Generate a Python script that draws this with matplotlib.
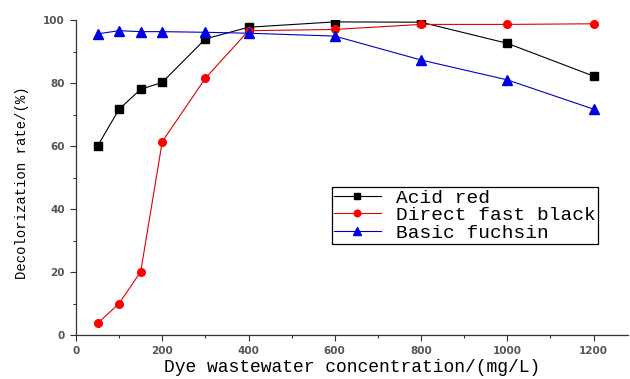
import matplotlib
matplotlib.use("Agg")
import matplotlib.pyplot as plt
from matplotlib.ticker import MultipleLocator

# data
conc = [50, 100, 150, 200, 300, 400, 600, 800, 1000, 1200]
acid_red = [60.0, 71.7, 78.0, 80.2, 94.0, 97.7, 99.4, 99.3, 92.6, 82.2]
direct_fast_black = [3.7, 10.0, 20.1, 61.4, 81.5, 96.6, 97.0, 98.6, 98.6, 98.8]
basic_fuchsin = [95.6, 96.6, 96.3, 96.3, 96.1, 95.8, 94.9, 87.3, 81.0, 71.7]
series_labels = ["Acid red", "Direct fast black", "Basic fuchsin"]

MONO = "Liberation Mono"

fig = plt.figure(figsize=(6.3, 3.79), dpi=100)
ax = fig.add_axes([76 / 630, 44 / 379, 552 / 630, 315 / 379])

ax.plot(conc, acid_red, color="black", marker="s", markersize=5.5, lw=0.8,
        label=series_labels[0])
ax.plot(conc, direct_fast_black, color="#e00000", marker="o", markersize=5.5,
        markerfacecolor="red", markeredgecolor="red", lw=0.8,
        label=series_labels[1])
ax.plot(conc, basic_fuchsin, color="#0000c8", marker="^", markersize=6.5,
        markerfacecolor="#0000e0", markeredgecolor="#0000e0", lw=0.8,
        label=series_labels[2])

ax.set_xlim(0, 1280)
ax.set_ylim(0, 100)
ax.xaxis.set_major_locator(MultipleLocator(200))
ax.xaxis.set_minor_locator(MultipleLocator(100))
ax.yaxis.set_major_locator(MultipleLocator(20))
ax.yaxis.set_minor_locator(MultipleLocator(10))

for s in ["top", "right"]:
    ax.spines[s].set_visible(False)
for s in ["left", "bottom"]:
    ax.spines[s].set_color("#333333")
    ax.spines[s].set_linewidth(0.9)

ax.tick_params(which="major", direction="out", length=4, width=0.8,
               colors="#333333", labelsize=7.5, pad=4)
ax.tick_params(which="minor", direction="out", length=2.5, width=0.8,
               colors="#333333")
for lab in ax.get_xticklabels() + ax.get_yticklabels():
    lab.set_fontweight("bold")
    lab.set_color("#555555")

ax.set_xlabel("Dye wastewater concentration/(mg/L)", fontfamily=MONO,
              fontsize=13, labelpad=2)
ax.set_ylabel("Decolorization rate/(%)", fontfamily=MONO, fontsize=10)
ax.yaxis.set_label_coords(-0.085, 0.485)

leg = fig.legend(loc="upper left", bbox_to_anchor=(332 / 630, 1 - 187 / 379),
                 prop={"family": MONO, "size": 14}, fancybox=False,
                 edgecolor="black", framealpha=1, borderpad=0.1,
                 labelspacing=0.0, handlelength=2.4, handletextpad=0.8,
                 borderaxespad=0, markerscale=0.85)
leg.get_frame().set_linewidth(0.9)

fig.savefig("out.png", dpi=100)
plt.close(fig)
